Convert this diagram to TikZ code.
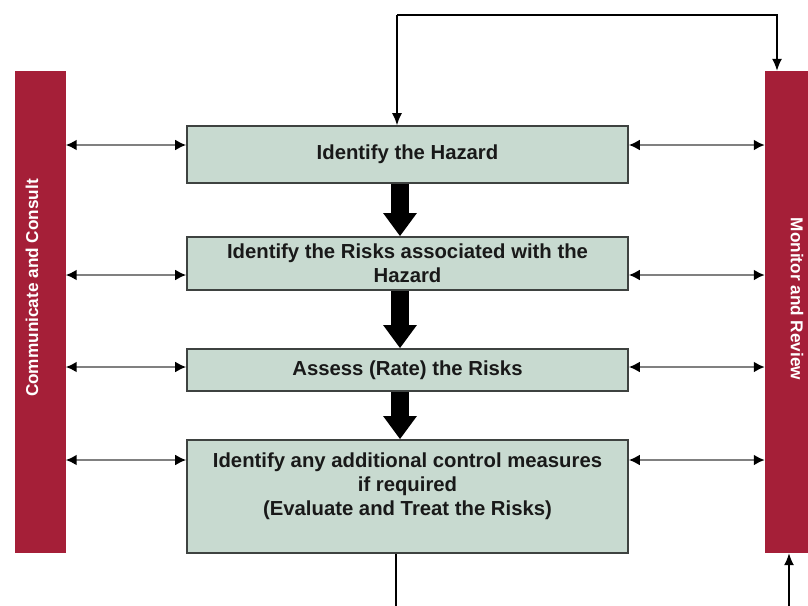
\documentclass[tikz,border=0pt]{standalone}
\usepackage{fontspec}
\setmainfont{Liberation Sans}
\usetikzlibrary{arrows.meta}

\definecolor{barred}{RGB}{165,31,56}
\definecolor{boxfill}{RGB}{200,218,208}
\definecolor{boxline}{RGB}{62,66,64}

\begin{document}
\begin{tikzpicture}[
    x=1pt, y=-1pt,
    box/.style={
        draw=boxline,
        line width=1.6pt,
        fill=boxfill,
        minimum width=441pt,
        align=center,
        text=black!90,
        font=\fontsize{20.3}{24}\selectfont\bfseries
    },
    bar/.style={
        fill=barred,
        draw=none,
        minimum width=51pt,
        minimum height=482pt
    },
    bartext/.style={text=white, font=\fontsize{17.2}{20}\selectfont\bfseries},
    bigarr/.style={line width=18pt, -{Triangle[width=32pt 0, length=23pt 0]}},
    thinarr/.style={line width=1.4pt, -{Latex[length=12pt, width=10pt]}},
    dbl/.style={draw=black!50, line width=2.6pt,
        {Latex[black, length=11pt, width=11pt]}-{Latex[black, length=11pt, width=11pt]}}
]
    \useasboundingbox (0,0) rectangle (808,605);
    \clip (0,0) rectangle (808,605);

    % side bars
    \node[bar] (cc) at (40,312) {};
    \node[bar] (mr) at (790.5,312) {};
    \node[bartext, rotate=90] (cctext) at (32,288) {Communicate and Consult};
    \node[bartext, rotate=-90] (mrtext) at (797,299) {Monitor and Review};

    % steps
    \node[box, minimum height=57pt] (b1) at (407.5,154.5) {Identify the Hazard};
    \node[box, minimum height=53pt] (b2) at (407.5,263.5) {Identify the Risks associated with the\\Hazard};
    \node[box, minimum height=42pt] (b3) at (407.5,370) {Assess (Rate) the Risks};
    \node[box, minimum height=113pt,
        label={[name=b4text, anchor=north, yshift=-10pt, align=center,
            text=black!90, font=\fontsize{20.3}{24}\selectfont\bfseries]north:
            Identify any additional control measures\\if required\\(Evaluate and Treat the Risks)}]
        (b4) at (407.5,496.5) {};

    \draw[bigarr] ([xshift=-7.5pt]b1.south) -- ([xshift=-7.5pt]b2.north);
    \draw[bigarr] ([xshift=-7.5pt]b2.south) -- ([xshift=-7.5pt]b3.north);
    \draw[bigarr] ([xshift=-7.5pt]b3.south) -- ([xshift=-7.5pt]b4.north);

    % consult / review links
    \foreach \b/\y in {b1/145, b2/275, b3/367, b4/460} {
        \draw[dbl] (cc.east |- 0,\y) -- (\b.west |- 0,\y);
        \draw[dbl] (\b.east |- 0,\y) -- (mr.west |- 0,\y);
    }

    % feedback loops
    \coordinate (loopL) at (397,15);
    \coordinate (loopR) at (777,15);
    \draw[thinarr] (loopL) -- (loopL |- b1.north);
    \draw[thinarr] (loopL) -- (loopR) -- (loopR |- mr.north);

    \coordinate (loopB) at (396,640);
    \coordinate (loopBR) at (789,640);
    \draw[thinarr] (b4.south -| loopB) -- (loopB) -- (loopBR) -- (loopBR |- mr.south);
\end{tikzpicture}
\end{document}
